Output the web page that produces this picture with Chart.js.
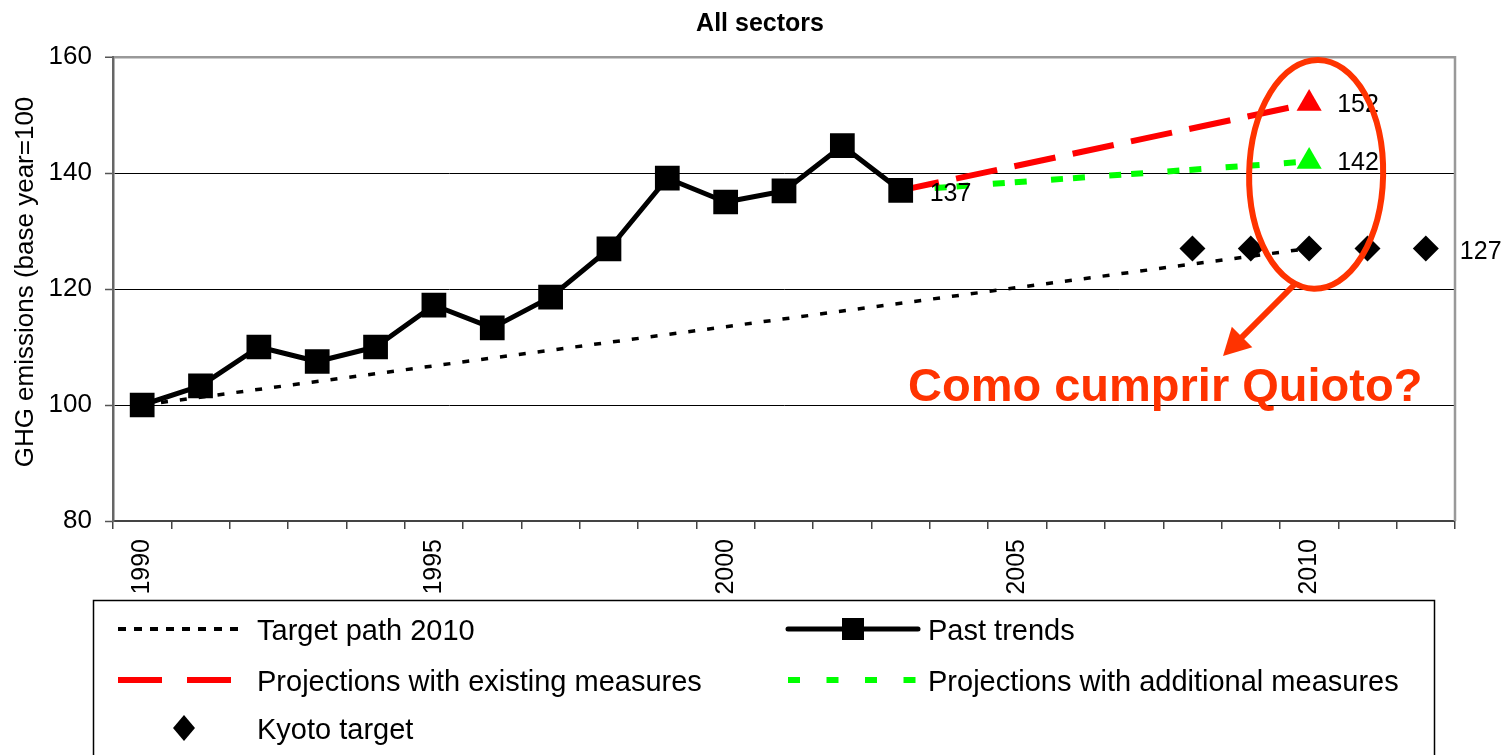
<!DOCTYPE html>
<html>
<head>
<meta charset="utf-8">
<title>All sectors</title>
<script src="https://cdn.jsdelivr.net/npm/chart.js@4.4.1/dist/chart.umd.min.js"></script>
<style>
  html, body { margin: 0; padding: 0; background: #fff; }
  canvas { display: block; }
</style>
</head>
<body>
<canvas id="chart" width="1501" height="755"></canvas>
<script>
// ---- data ----
const years = ['1990','1991','1992','1993','1994','1995','1996','1997','1998','1999','2000',
               '2001','2002','2003','2004','2005','2006','2007','2008','2009','2010','2011','2012'];

const targetPath         = [100, null, null, null, null, null, null, null, null, null, null,
                            null, null, null, null, null, null, null, null, null, 127, null, null];
const pastTrends         = [100, 103.3, 110, 107.5, 110, 117.2, 113.3, 118.6, 126.9, 139.1, 135,
                            136.9, 144.7, 137, null, null, null, null, null, null, null, null, null];
const existingMeasures   = [null, null, null, null, null, null, null, null, null, null, null,
                            null, null, 137, null, null, null, null, null, null, 152, null, null];
const additionalMeasures = [null, null, null, null, null, null, null, null, null, null, null,
                            null, null, 137, null, null, null, null, null, null, 142, null, null];
const kyotoTarget        = [null, null, null, null, null, null, null, null, null, null, null,
                            null, null, null, null, null, null, null, 127, 127, 127, 127, 127];

const yTicks = [80, 100, 120, 140, 160];
const seriesNames = ['Target path 2010', 'Past trends', 'Projections with existing measures',
                     'Projections with additional measures', 'Kyoto target'];

const FONT = "'Liberation Sans', Arial, Helvetica, sans-serif";
const ORANGE = '#FF3300';

// index of the last real value of a series (where the end marker sits)
const lastIndex = arr => arr.reduce((acc, v, i) => (v !== null ? i : acc), -1);
const endMarker = (arr, r) => arr.map((v, i) => (i === lastIndex(arr) ? r : 0));

// value labels: [dataset index, point index, dx, dy]
const valueLabels = [
  [1, lastIndex(pastTrends), 29, 2],
  [2, lastIndex(existingMeasures), 28, 0],
  [3, lastIndex(additionalMeasures), 28, 0],
  [4, lastIndex(kyotoTarget), 34, 2]
];

// ---- drawing helpers ----
function drawDashed(ctx, x0, x1, y, dash, width, color, cap) {
  ctx.save();
  ctx.strokeStyle = color;
  ctx.lineWidth = width;
  ctx.lineCap = cap || 'butt';
  ctx.setLineDash(dash);
  ctx.beginPath();
  ctx.moveTo(x0, y);
  ctx.lineTo(x1, y);
  ctx.stroke();
  ctx.restore();
}

const decorations = {
  id: 'decorations',
  afterDatasetsDraw(chart) {
    const { ctx, chartArea, scales } = chart;
    const xs = scales.x, ys = scales.y;

    // right edge of plot area
    ctx.save();
    ctx.strokeStyle = '#999';
    ctx.lineWidth = 2.5;
    ctx.beginPath();
    ctx.moveTo(chartArea.right, chartArea.top - 1);
    ctx.lineTo(chartArea.right, chartArea.bottom);
    ctx.stroke();
    ctx.restore();

    // value labels next to end points
    ctx.save();
    ctx.font = `25px ${FONT}`;
    ctx.fillStyle = '#000';
    ctx.textAlign = 'left';
    ctx.textBaseline = 'alphabetic';
    valueLabels.forEach(([ds, idx, dx, dy]) => {
      const pt = chart.getDatasetMeta(ds).data[idx];
      const v = chart.data.datasets[ds].data[idx];
      ctx.fillText(String(Math.round(v)), pt.x + dx, pt.y + 9 + dy);
    });
    ctx.restore();

    // highlight ellipse around the 2010 projections
    const cx = xs.getPixelForValue(lastIndex(existingMeasures)) + 7;
    const top = ys.getPixelForValue(159.5);
    const bottom = ys.getPixelForValue(120.05);
    ctx.save();
    ctx.strokeStyle = ORANGE;
    ctx.lineWidth = 6;
    ctx.beginPath();
    ctx.ellipse(cx, (top + bottom) / 2, 67, (bottom - top) / 2, 0.02, 0, Math.PI * 2);
    ctx.stroke();

    // arrow pointing to the question
    const sx = 1296, sy = 283, tx = 1223, ty = 356;
    const ang = Math.atan2(ty - sy, tx - sx);
    const headLen = 27, headHalf = 14.5;
    const bx = tx - headLen * Math.cos(ang), by = ty - headLen * Math.sin(ang);
    ctx.lineWidth = 6;
    ctx.beginPath();
    ctx.moveTo(sx, sy);
    ctx.lineTo(bx + 3 * Math.cos(ang), by + 3 * Math.sin(ang));
    ctx.stroke();
    ctx.fillStyle = ORANGE;
    ctx.beginPath();
    ctx.moveTo(tx, ty);
    ctx.lineTo(bx + headHalf * Math.sin(ang), by - headHalf * Math.cos(ang));
    ctx.lineTo(bx - headHalf * Math.sin(ang), by + headHalf * Math.cos(ang));
    ctx.closePath();
    ctx.fill();

    ctx.font = `bold 47px ${FONT}`;
    ctx.textAlign = 'left';
    ctx.textBaseline = 'alphabetic';
    ctx.fillText('Como cumprir Quioto?', 908, 401);
    ctx.restore();
  },
  afterDraw(chart) {
    const { ctx } = chart;
    const ds = chart.data.datasets;

    // title
    ctx.save();
    ctx.fillStyle = '#000';
    ctx.font = `bold 25px ${FONT}`;
    ctx.textAlign = 'center';
    ctx.textBaseline = 'alphabetic';
    ctx.fillText('All sectors', 760, 31);

    // vertical axis title
    ctx.translate(26, 282);
    ctx.rotate(-Math.PI / 2);
    ctx.font = `26px ${FONT}`;
    ctx.textBaseline = 'middle';
    ctx.fillText('GHG emissions (base year=100', 0, 0);
    ctx.restore();

    // legend box
    ctx.save();
    ctx.strokeStyle = '#000';
    ctx.lineWidth = 1.5;
    ctx.strokeRect(93.5, 600.5, 1341, 200);

    const rows = [629, 680, 728];
    const col1 = { x0: 118, x1: 238, tx: 257 };
    const col2 = { x0: 788, x1: 918, tx: 928 };

    // Target path 2010
    drawDashed(ctx, col1.x0, col1.x1, rows[0], [8, 8], 4, ds[0].borderColor);
    // Past trends
    drawDashed(ctx, col2.x0, col2.x1, rows[0], [], 5, ds[1].borderColor, 'round');
    ctx.fillStyle = ds[1].backgroundColor;
    ctx.fillRect((col2.x0 + col2.x1) / 2 - 11, rows[0] - 11, 22, 22);
    // existing measures
    drawDashed(ctx, col1.x0, col1.x1, rows[1], [44, 25], 6, ds[2].borderColor);
    // additional measures
    drawDashed(ctx, col2.x0, col2.x1, rows[1], [12, 26.5], 6, ds[3].borderColor);
    // Kyoto target diamond
    ctx.fillStyle = ds[4].backgroundColor;
    ctx.beginPath();
    const dx = 184, dy = rows[2];
    ctx.moveTo(dx, dy - 13);
    ctx.lineTo(dx + 11, dy);
    ctx.lineTo(dx, dy + 13);
    ctx.lineTo(dx - 11, dy);
    ctx.closePath();
    ctx.fill();

    ctx.fillStyle = '#000';
    ctx.font = `29px ${FONT}`;
    ctx.textAlign = 'left';
    ctx.textBaseline = 'alphabetic';
    ctx.fillText(ds[0].label, col1.tx, rows[0] + 10.5);
    ctx.fillText(ds[1].label, col2.tx, rows[0] + 10.5);
    ctx.fillText(ds[2].label, col1.tx, rows[1] + 10.5);
    ctx.fillText(ds[3].label, col2.tx, rows[1] + 10.5);
    ctx.fillText(ds[4].label, col1.tx, rows[2] + 10.5);
    ctx.restore();
  }
};

Chart.defaults.font.family = FONT;
Chart.defaults.color = '#000';

new Chart(document.getElementById('chart'), {
  type: 'line',
  data: {
    labels: years,
    datasets: [
      {
        label: seriesNames[0], data: targetPath, order: 4,
        borderColor: '#000', borderWidth: 3.5, borderDash: [7, 12],
        pointRadius: 0, spanGaps: true, fill: false
      },
      {
        label: seriesNames[1], data: pastTrends, order: 0,
        borderColor: '#000', backgroundColor: '#000', borderWidth: 5,
        borderJoinStyle: 'round',
        pointStyle: 'rect', pointRadius: 17.5, pointBorderWidth: 0,
        pointBackgroundColor: '#000', fill: false
      },
      {
        label: seriesNames[2], data: existingMeasures, order: 1,
        borderColor: '#FF0000', backgroundColor: '#FF0000', borderWidth: 6,
        borderDash: [42, 17.6], borderDashOffset: 3, spanGaps: true,
        pointStyle: 'triangle', pointRadius: endMarker(existingMeasures, 14.5),
        pointBorderWidth: 0, pointBackgroundColor: '#FF0000', fill: false
      },
      {
        label: seriesNames[3], data: additionalMeasures, order: 2,
        borderColor: '#00FF00', backgroundColor: '#00FF00', borderWidth: 6,
        borderDash: [12, 10, 12, 24.35], borderDashOffset: 24.35, spanGaps: true,
        pointStyle: 'triangle', pointRadius: endMarker(additionalMeasures, 14.5),
        pointBorderWidth: 0, pointBackgroundColor: '#00FF00', fill: false
      },
      {
        label: seriesNames[4], data: kyotoTarget, order: 3, showLine: false,
        borderColor: '#000', backgroundColor: '#000',
        pointStyle: 'rectRot', pointRadius: 13, pointBorderWidth: 0,
        pointBackgroundColor: '#000'
      }
    ]
  },
  options: {
    responsive: false,
    animation: false,
    devicePixelRatio: 1,
    layout: { padding: { top: 57, right: 46, left: 0, bottom: 0 } },
    plugins: { legend: { display: false }, tooltip: { enabled: false }, title: { display: false } },
    elements: { line: { tension: 0 } },
    scales: {
      x: {
        type: 'category',
        offset: true,
        afterFit: s => { s.height = 234; },
        grid: {
          display: true, drawOnChartArea: false, drawTicks: true, offset: true,
          tickLength: 8, color: '#444', lineWidth: 1.5
        },
        border: { display: true, color: '#444', width: 2 },
        ticks: {
          autoSkip: false, maxRotation: 90, minRotation: 90, padding: 10,
          color: '#000', font: { size: 25, family: FONT },
          callback: function (value) {
            const lab = this.getLabelForValue(value);
            return Number(lab) % 5 === 0 ? lab : '';
          }
        }
      },
      y: {
        min: yTicks[0],
        max: yTicks[yTicks.length - 1],
        afterFit: s => { s.width = 113; },
        afterBuildTicks: s => { s.ticks = yTicks.map(v => ({ value: v })); },
        grid: {
          drawTicks: true, tickLength: 8, tickColor: '#555', tickWidth: 1.5,
          color: c => (c.tick && c.tick.value === yTicks[yTicks.length - 1] ? '#999' : '#000'),
          lineWidth: c => (c.tick && c.tick.value === yTicks[yTicks.length - 1] ? 2.5 : 1)
        },
        border: { display: true, color: '#666', width: 2.5 },
        ticks: { padding: 13, color: '#000', font: { size: 26, family: FONT } }
      }
    }
  },
  plugins: [decorations]
});
</script>
</body>
</html>
